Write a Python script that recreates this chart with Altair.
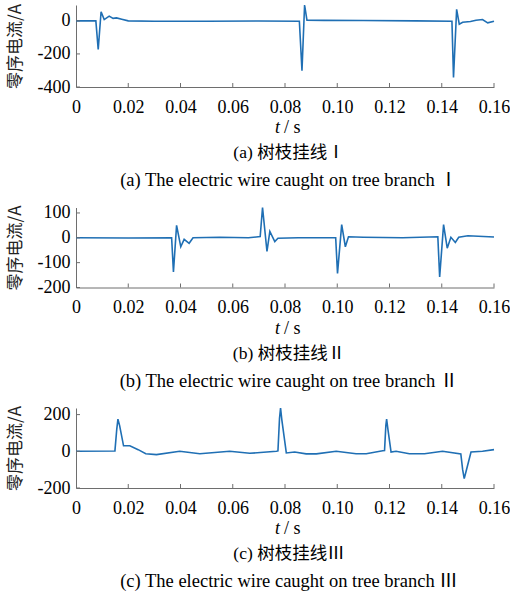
import altair as alt
import pandas as pd

# ---------------- data ----------------
t_a = [0, 0.0076, 0.0085, 0.0096, 0.0108, 0.0127, 0.0142, 0.0155, 0.0175, 0.0200,
       0.030, 0.050, 0.070, 0.0855, 0.0865, 0.0875, 0.0884, 0.095, 0.110, 0.130,
       0.1439, 0.1445, 0.1457, 0.1467, 0.1480, 0.1510, 0.1531, 0.1556, 0.1576, 0.1600]
i_a = [0, 0, -173, 55, 8, 29, 15, 18, 10, 0,
       -2, -2, -1, -2, -302, 96, 4, 3, 2, 0,
       -2, -343, 70, -20, -8, -4, 4, 8, -12, -2]

t_b = [0, 0.020, 0.0366, 0.0373, 0.0385, 0.0401, 0.0414, 0.0433, 0.0448, 0.055,
       0.066, 0.0705, 0.0714, 0.0731, 0.0742, 0.0761, 0.0773, 0.085, 0.0994, 0.1001,
       0.1017, 0.1031, 0.1043, 0.110, 0.125, 0.1385, 0.1392, 0.1407, 0.1421, 0.1435,
       0.1452, 0.1465, 0.150, 0.1600]
i_b = [0, -1, 0, -137, 50, -36, -6, -22, 0, 2,
       0, 5, 122, -55, 26, -15, -2, 0, 0, -143,
       53, -36, 4, 2, 0, 4, -158, 53, -42, 2,
       -19, 2, 8, 3]

t_c = [0, 0.0149, 0.0156, 0.01605, 0.0167, 0.0182, 0.0206, 0.0238, 0.0267, 0.0308,
       0.0397, 0.0474, 0.0588, 0.0665, 0.0767, 0.0773, 0.0779, 0.0783, 0.0788, 0.0805,
       0.0837, 0.0881, 0.0920, 0.0996, 0.1072, 0.1111, 0.1174, 0.1181, 0.1186, 0.1189,
       0.1194, 0.1206, 0.1225, 0.1276, 0.1334, 0.1403, 0.1473, 0.1480, 0.1486, 0.1493,
       0.1512, 0.1556, 0.1600]
i_c = [0, 2, 120, 175, 140, 30, 30, 9, -13, -18,
       0, -13, 0, -11, 0, 2, 180, 236, 170, -9,
       -4, -14, -14, 0, -13, -13, 3, 4, 140, 175,
       120, -4, 0, -13, -13, 0, -14, -100, -149, -110,
       -4, 0, 9]

x_ticks = [0, 0.02, 0.04, 0.06, 0.08, 0.10, 0.12, 0.14, 0.16]
y_ticks_a = [-400, -200, 0]
y_ticks_b = [-200, -100, 0, 100]
y_ticks_c = [-200, 0, 200]
y_domains = [[-400, 96], [-200, 122], [-200, 236]]

y_title = "零序电流/A"
x_title_italic = "t"
x_title_rest = "/ s"
captions_cn = ["(a) 树枝挂线Ⅰ", "(b) 树枝挂线Ⅱ", "(c) 树枝挂线Ⅲ"]
captions_en = ["(a) The electric wire caught on tree branch Ⅰ",
               "(b) The electric wire caught on tree branch Ⅱ",
               "(c) The electric wire caught on tree branch Ⅲ"]

# ---------------- styling ----------------
W = 418
heights = [82, 80, 80]
LINE = "#1f6fb4"
AX = "#6e6e6e"
SERIF = "Liberation Serif, Times New Roman, serif"
CJK = "Liberation Serif, Noto Sans CJK SC"
FS = 18


def panel(t, v, yticks, ydom, h, cn, en):
    df = pd.DataFrame({"t": t, "i": v})
    xs = alt.Scale(domain=[0, 0.16], nice=False, zero=False)
    ys = alt.Scale(domain=ydom, nice=False, zero=False)
    ax_x = alt.Axis(
        values=x_ticks, ticks=False, tickSize=0, grid=False,
        labelExpr="datum.value == 0 ? '0' : format(datum.value, '.2f')",
        labelFont=SERIF, labelFontSize=FS, labelColor="black",
        labelPadding=11, labelFlush=False, labelOverlap=False,
        domainColor=AX, domainWidth=1, title=None)
    ax_y = alt.Axis(
        values=yticks, ticks=False, tickSize=0, grid=False,
        labelExpr="'' + datum.value",
        labelFont=SERIF, labelFontSize=FS, labelColor="black",
        labelPadding=6, labelFlush=False, labelOverlap=False,
        domainColor=AX, domainWidth=1,
        title=y_title, titleFont="Noto Sans CJK SC", titleFontSize=17,
        titleFontWeight="normal", titleColor="#222222",
        titleX=-61, titleY=h / 2, titleAngle=270,
        titleAlign="center", titleBaseline="middle")
    line = alt.Chart(df).mark_line(color=LINE, strokeWidth=1.6).encode(
        x=alt.X("t:Q", scale=xs, axis=ax_x),
        y=alt.Y("i:Q", scale=ys, axis=ax_y),
    )
    xt = alt.Chart(pd.DataFrame({"t": x_ticks[1:]})).mark_rule(
        color=AX, strokeWidth=1).encode(
        x=alt.X("t:Q", scale=xs, axis=ax_x),
        y=alt.value(h), y2=alt.value(h - 4))
    yt = alt.Chart(pd.DataFrame({"i": yticks})).mark_rule(
        color=AX, strokeWidth=1).encode(
        y=alt.Y("i:Q", scale=ys, axis=ax_y),
        x=alt.value(0), x2=alt.value(4))
    mid = W / 2
    lab = pd.DataFrame({"a": [x_title_italic], "b": [x_title_rest],
                        "cn": [cn], "en": [en]})
    t1 = alt.Chart(lab).mark_text(font=SERIF, fontSize=FS, fontStyle="italic",
                                  align="right", baseline="middle", color="black").encode(
        text="a:N", x=alt.value(mid - 5), y=alt.value(h + 41))
    t2 = alt.Chart(lab).mark_text(font=SERIF, fontSize=FS,
                                  align="left", baseline="middle", color="black").encode(
        text="b:N", x=alt.value(mid - 1), y=alt.value(h + 41))
    c1 = alt.Chart(lab).mark_text(font=CJK, fontSize=17.5,
                                  align="center", baseline="middle", color="black").encode(
        text="cn:N", x=alt.value(mid + 4), y=alt.value(h + 66))
    c2 = alt.Chart(lab).mark_text(font=CJK, fontSize=18.5,
                                  align="center", baseline="middle", color="black").encode(
        text="en:N", x=alt.value(mid + 4), y=alt.value(h + 93))
    return alt.layer(line, xt, yt, t1, t2, c1, c2).properties(width=W, height=h)


pa = panel(t_a, i_a, y_ticks_a, y_domains[0], heights[0], captions_cn[0], captions_en[0])
pb = panel(t_b, i_b, y_ticks_b, y_domains[1], heights[1], captions_cn[1], captions_en[1])
pc = panel(t_c, i_c, y_ticks_c, y_domains[2], heights[2], captions_cn[2], captions_en[2])

chart = alt.vconcat(pa, pb, pc, spacing=120.5, bounds="flush").properties(
    padding={"left": 5, "top": 1, "right": 0, "bottom": 0},
    background="white",
).configure_view(stroke=None).configure_axis(
    labelFont=SERIF, labelFontSize=FS, labelColor="black")

chart.save("out.html", embed_options={"renderer": "svg", "actions": False})
